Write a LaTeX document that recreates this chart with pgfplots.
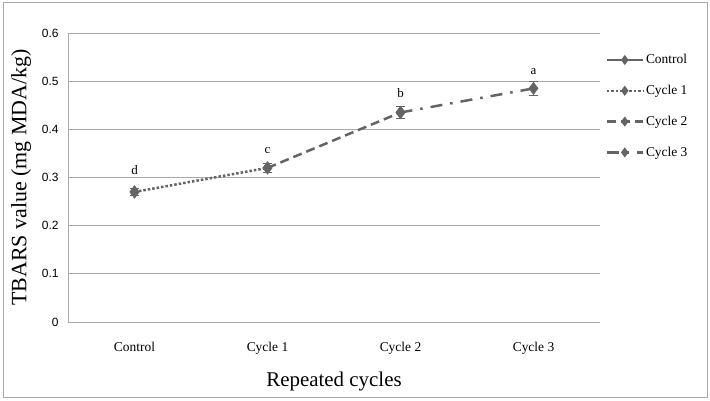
\documentclass[border=0pt]{standalone}
\usepackage{fontspec}
\setmainfont{Liberation Serif}
\newfontfamily\arialfont{Liberation Sans}
\usepackage{pgfplots}
\pgfplotsset{compat=1.18}
\definecolor{ser}{RGB}{100,100,100}
\definecolor{grd}{RGB}{170,170,170}
\begin{document}
\begin{tikzpicture}[x=1bp,y=1bp]
\useasboundingbox (0,0) rectangle (710,400);
\draw[grd, line width=1bp] (3,3) rectangle (707,397);
\begin{axis}[
  at={(68bp,78bp)}, anchor=south west,
  scale only axis, width=532bp, height=289bp,
  xmin=-0.5, xmax=3.5, ymin=0, ymax=0.6,
  xtick={0,1,2,3}, xticklabels={Control,Cycle 1,Cycle 2,Cycle 3},
  ytick={0,0.1,...,0.6},
  yticklabel style={font=\arialfont\fontsize{12}{12}\selectfont, /pgf/number format/fixed, /pgf/number format/precision=1, xshift=-6bp},
  /pgf/number format/assume math mode=true,
  xticklabel style={font=\fontsize{13.5}{13.5}\selectfont, yshift=-17bp},
  major tick length=0pt,
  axis x line*=bottom, axis y line*=left,
  axis line style={grd, line width=1bp},
  ymajorgrids, grid style={grd, line width=1bp},
  xlabel={Repeated cycles}, ylabel={TBARS value (mg MDA/kg)},
  xlabel style={font=\fontsize{21}{21}\selectfont, yshift=-10bp},
  ylabel style={font=\fontsize{22}{22}\selectfont, yshift=4bp},
  legend style={at={(1.01,0.933)}, anchor=north west, draw=none, fill=none,
    font=\fontsize{13.5}{13.5}\selectfont, row sep=16bp, inner sep=0pt,
    /tikz/every even column/.append style={column sep=2bp}},
  legend cell align=left,
  legend image code/.code={\draw[mark repeat=2,mark phase=2,#1,line width=2.5bp] plot coordinates {(0bp,0bp)(18bp,0bp)(36bp,0bp)};},
  every axis plot/.append style={ser, line width=2.5bp, mark=diamond*, mark size=4.5bp, mark options={solid, fill=ser, draw=ser}},
  error bars/error bar style={ser, line width=1bp, solid},
  error bars/error mark options={rotate=90, mark size=4.5bp, line width=1bp, solid},
  legend image post style={mark size=3bp},
]
\addplot[solid, error bars/.cd, y dir=both, y explicit] coordinates {(0,0.270) +- (0,0.007)};
\addlegendentry{Control}
\addplot[dotted, error bars/.cd, y dir=both, y explicit] coordinates {(0,0.270) +- (0,0.007) (1,0.320) +- (0,0.010)};
\addlegendentry{Cycle 1}
\addplot[dash pattern=on 9bp off 5bp, error bars/.cd, y dir=both, y explicit] coordinates {(1,0.320) +- (0,0.010) (2,0.435) +- (0,0.013)};
\addlegendentry{Cycle 2}
\addplot[dash pattern=on 12bp off 8bp on 2.5bp off 8bp, error bars/.cd, y dir=both, y explicit] coordinates {(2,0.435) +- (0,0.013) (3,0.485) +- (0,0.015)};
\addlegendentry{Cycle 3}
\node[font=\fontsize{13}{13}\selectfont] at (axis cs:0.0,0.315) {d};
\node[font=\fontsize{13}{13}\selectfont] at (axis cs:1.0,0.357) {c};
\node[font=\fontsize{13}{13}\selectfont] at (axis cs:2.0,0.475) {b};
\node[font=\fontsize{13}{13}\selectfont] at (axis cs:3.0,0.521) {a};
\end{axis}
\end{tikzpicture}
\end{document}
